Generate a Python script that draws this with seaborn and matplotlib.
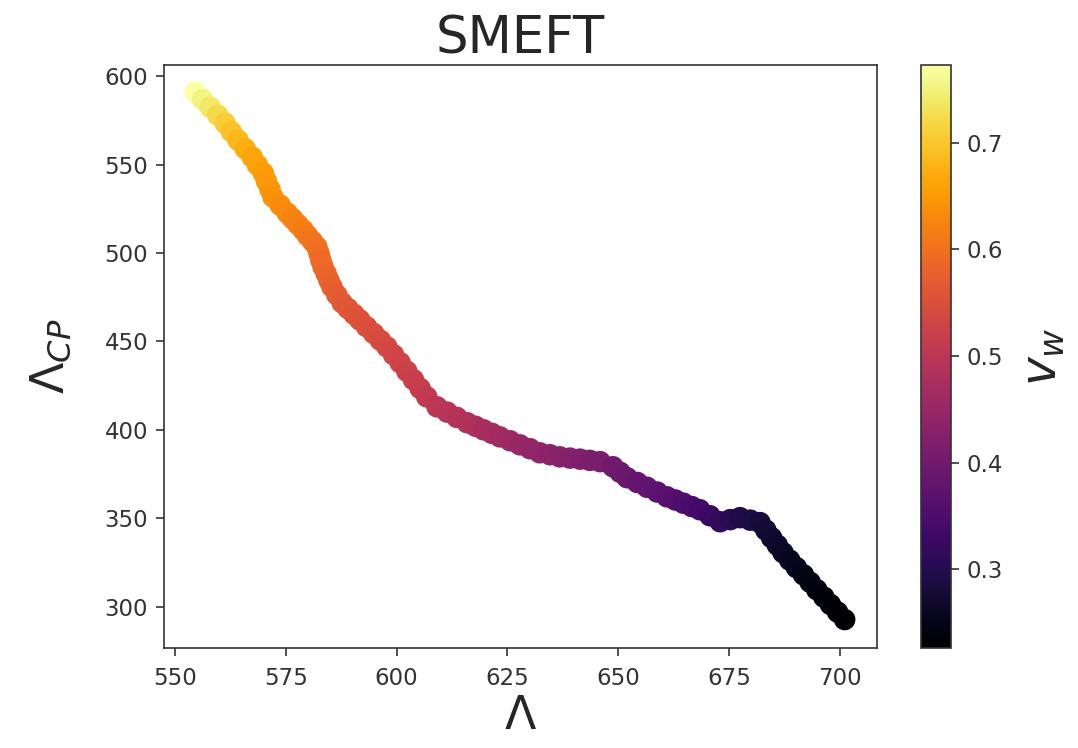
import numpy as np
import pandas as pd
import matplotlib
matplotlib.use("Agg")
import matplotlib.pyplot as plt
import seaborn as sns

# Lambda (x), Lambda_CP (y), v_w (colour)
lam = [554.5, 556.2, 557.9, 559.6, 561.3, 562.7, 564.2, 565.8, 567.4, 568.6,
       569.9, 570.6, 571.4, 572.1, 573.7, 575.3, 576.5, 577.7, 578.9, 579.9,
       581.0, 582.0, 582.5, 582.9, 583.4, 584.1, 584.7, 585.4, 586.5, 587.7,
       589.0, 590.4, 591.7, 593.2, 594.8, 596.3, 597.8, 599.3, 600.8, 602.3,
       603.8, 605.3, 606.8, 609.1, 611.4, 613.6, 615.9, 617.8, 619.6, 621.5,
       623.3, 625.6, 627.8, 630.1, 632.3, 634.6, 636.8, 639.1, 641.4, 643.6,
       645.9, 648.8, 650.4, 652.0, 654.3, 656.5, 658.8, 661.0, 662.9, 664.7,
       666.6, 668.4, 670.7, 673.0, 675.3, 677.5, 679.8, 682.0, 683.3, 684.6,
       685.9, 687.2, 688.7, 690.2, 691.8, 693.3, 694.8, 696.4, 697.9, 699.5,
       701.1]
lam_cp = [591.0, 586.8, 582.5, 578.0, 573.4, 568.6, 563.8, 559.0, 554.2, 549.7,
          545.2, 540.7, 536.1, 531.6, 527.1, 522.6, 519.4, 516.2, 513.0, 509.8,
          506.6, 503.4, 499.6, 495.9, 492.1, 488.3, 484.6, 480.8, 476.3, 471.8,
          468.6, 465.3, 462.1, 458.3, 454.5, 450.7, 446.9, 442.4, 437.9, 433.1,
          428.3, 423.4, 418.6, 413.0, 410.0, 407.0, 404.0, 402.0, 400.0, 398.0,
          396.0, 393.8, 391.5, 389.3, 387.0, 385.9, 384.7, 384.0, 383.4, 382.7,
          382.0, 379.1, 376.0, 372.9, 370.2, 367.5, 364.8, 362.1, 360.3, 358.5,
          356.6, 354.8, 351.4, 348.0, 349.2, 350.3, 348.9, 347.5, 343.3, 339.0,
          334.8, 330.5, 326.3, 322.1, 318.0, 313.8, 309.6, 305.4, 301.2, 296.9,
          292.7]
v_w = [0.773, 0.752, 0.738, 0.722, 0.708, 0.696, 0.684, 0.674, 0.666, 0.660,
       0.654, 0.650, 0.646, 0.642, 0.636, 0.630, 0.625, 0.620, 0.615, 0.610,
       0.605, 0.600, 0.597, 0.593, 0.590, 0.586, 0.582, 0.578, 0.572, 0.567,
       0.563, 0.559, 0.555, 0.551, 0.547, 0.544, 0.540, 0.535, 0.530, 0.525,
       0.520, 0.515, 0.510, 0.500, 0.495, 0.490, 0.485, 0.480, 0.475, 0.470,
       0.465, 0.459, 0.452, 0.446, 0.440, 0.435, 0.430, 0.425, 0.420, 0.415,
       0.410, 0.400, 0.395, 0.390, 0.384, 0.378, 0.371, 0.365, 0.359, 0.352,
       0.346, 0.340, 0.328, 0.315, 0.305, 0.295, 0.288, 0.280, 0.276, 0.271,
       0.267, 0.262, 0.258, 0.253, 0.249, 0.244, 0.240, 0.236, 0.233, 0.229,
       0.226]

x_ticks = [550, 575, 600, 625, 650, 675, 700]
y_ticks = [300, 350, 400, 450, 500, 550, 600]
cb_ticks = [0.3, 0.4, 0.5, 0.6, 0.7]

sns.set_style("ticks")
plt.rcParams['font.family'] = ['DejaVu Sans']

df = pd.DataFrame({"lam": lam, "lam_cp": lam_cp, "v_w": v_w})

fig = plt.figure(figsize=(10.78, 7.48), dpi=100)
W, H = 1078, 748
ax = fig.add_axes([164 / W, 1 - 648 / H, (877 - 164) / W, (648 - 65) / H])
sns.scatterplot(data=df, x="lam", y="lam_cp", hue="v_w", palette="inferno",
                s=240, linewidth=0, legend=False, ax=ax)

ax.set_xticks(x_ticks)
ax.set_yticks(y_ticks)
ax.set_xlim(547.5, 708.4)
ax.set_ylim(276.6, 606.3)
ax.tick_params(labelsize=16.5, length=5.5, width=1.2, colors="#333333")
ax.tick_params(axis="x", pad=8)
ax.tick_params(axis="y", pad=6)
for sp in ax.spines.values():
    sp.set_linewidth(1.2)
    sp.set_color("#333333")
ax.set_xlabel(r"$\Lambda$", fontsize=33, labelpad=3)
ax.set_ylabel(r"$\Lambda_{CP}$", fontsize=33, labelpad=22)
ax.set_title("SMEFT", fontsize=37, pad=8)

norm = plt.Normalize(min(v_w), max(v_w))
sm = plt.cm.ScalarMappable(norm=norm, cmap="inferno")
cax = fig.add_axes([921 / W, 1 - 648 / H, 30 / W, (648 - 65) / H])
cb = fig.colorbar(sm, cax=cax)
cb.set_ticks(cb_ticks)
cb.ax.tick_params(labelsize=16.5, length=5.5, width=1.2, pad=6, colors="#333333")
cb.outline.set_linewidth(1.2)
cb.outline.set_edgecolor("#333333")
cb.set_label(r"$v_w$", fontsize=35, labelpad=11)

fig.savefig("out.png", dpi=100)
